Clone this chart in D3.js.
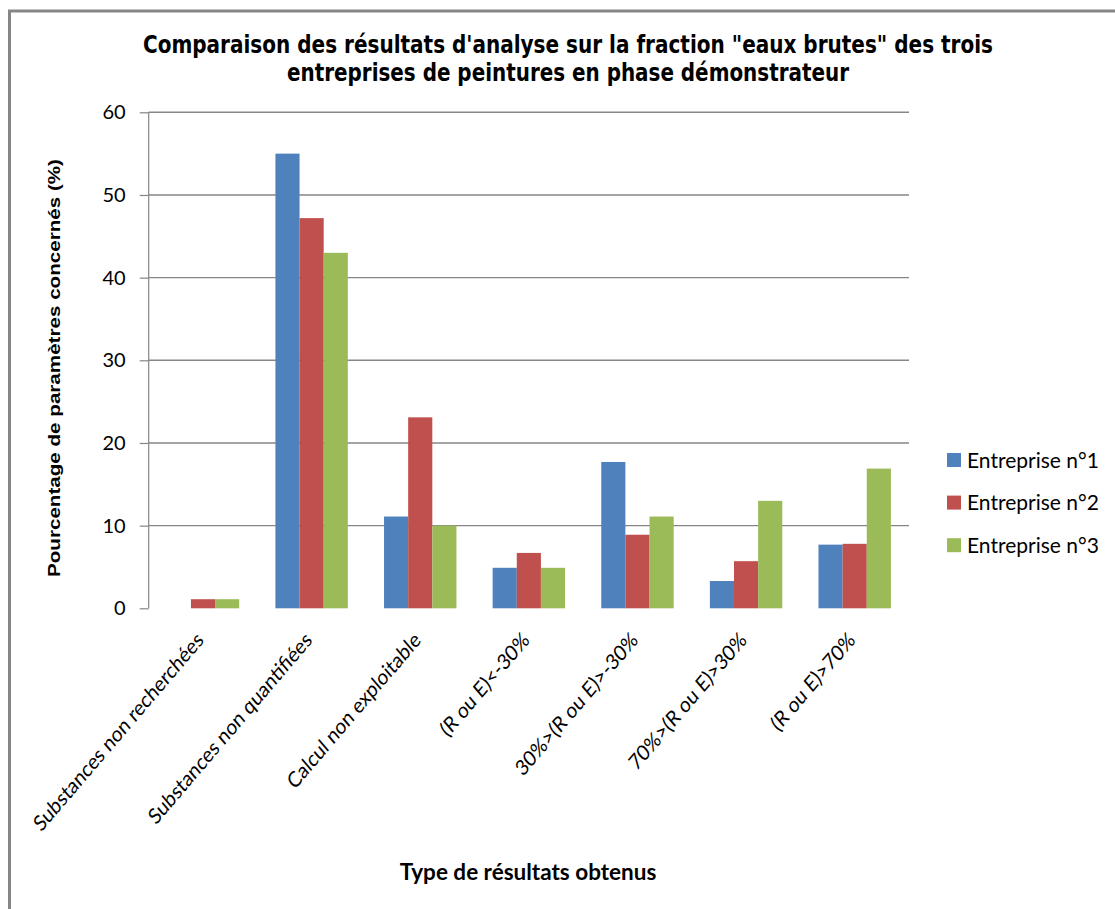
<!DOCTYPE html>
<html><head><meta charset="utf-8">
<script src="https://cdn.jsdelivr.net/npm/d3@7"></script>
<style>
html,body{margin:0;padding:0;background:#fff;}
svg{display:block;}
</style>
</head><body>
<svg id="chart" width="1115" height="909"></svg>
<script>
const categories = ["Substances non recherchées","Substances non quantifiées","Calcul non exploitable","(R ou E)<-30%","30%>(R ou E)>-30%","70%>(R ou E)>30%","(R ou E)>70%"];
const seriesNames = ["Entreprise n°1","Entreprise n°2","Entreprise n°3"];
const entreprise1 = [0, 55.0, 11.1, 4.9, 17.7, 3.3, 7.7];
const entreprise2 = [1.1, 47.2, 23.1, 6.7, 8.9, 5.7, 7.8];
const entreprise3 = [1.1, 43.0, 10.0, 4.9, 11.1, 13.0, 16.9];
const yTicks = [0, 10, 20, 30, 40, 50, 60];
const colors = ["#4F81BD", "#C0504D", "#9BBB59"];
const titleLines = ["Comparaison des résultats d'analyse sur la fraction \"eaux brutes\" des trois", "entreprises de peintures en phase démonstrateur"];
const yTitle = "Pourcentage de paramètres concernés (%)";
const xTitle = "Type de résultats obtenus";

const seriesValues = [entreprise1, entreprise2, entreprise3];
const svg = d3.select("#chart");

// frame border (only left & top visible)
svg.append("rect").attr("x", 9.5).attr("y", 11).attr("width", 1200).attr("height", 1000)
  .attr("fill", "none").attr("stroke", "#868686").attr("stroke-width", 3);

const plot = {left: 148.7, right: 909, top: 112.3, bottom: 608.3};

const x = d3.scaleBand().domain(categories).range([plot.left, plot.right])
  .paddingInner(1/3).paddingOuter(1/6);
const xs = d3.scaleBand().domain(seriesNames).range([0, x.bandwidth()]).padding(0);
const y = d3.scaleLinear().domain([0, 60]).range([plot.bottom, plot.top]);

// gridlines
svg.append("g").selectAll("line").data(yTicks.filter(d => d > 0)).join("line")
  .attr("x1", plot.left).attr("x2", plot.right)
  .attr("y1", d => y(d)).attr("y2", d => y(d))
  .attr("stroke", "#868686").attr("stroke-width", 1.4);

// y axis
const yAxis = d3.axisLeft(y).tickValues(yTicks).tickSize(9).tickPadding(14).tickFormat(d3.format("d"));
const gy = svg.append("g").attr("transform", `translate(${plot.left},0)`).call(yAxis);
gy.select(".domain").attr("stroke", "#868686").attr("stroke-width", 1.2).attr("d", `M-0,${plot.top}V${plot.bottom}`);
gy.selectAll(".tick line").attr("stroke", "#868686").attr("stroke-width", 1.2);
gy.selectAll(".tick text").attr("font-family", "Lato, 'Open Sans', sans-serif").attr("font-size", 20).attr("fill", "#000");

// bars
const groups = svg.append("g").selectAll("g").data(categories).join("g")
  .attr("transform", d => `translate(${x(d)},0)`);
groups.selectAll("rect").data((c, i) => seriesNames.map((s, j) => ({s, v: seriesValues[j][i], j})))
  .join("rect")
  .attr("x", d => xs(d.s)).attr("width", xs.bandwidth())
  .attr("y", d => y(d.v)).attr("height", d => y(0) - y(d.v))
  .attr("fill", d => colors[d.j]);

// category labels (source image is slightly stretched vertically)
svg.append("g").selectAll("text").data(categories).join("text")
  .attr("transform", d => `translate(${x(d) + x.bandwidth()/2 - 3},636) scale(1,1.17) rotate(-45)`)
  .attr("text-anchor", "end").attr("dy", "0.35em")
  .attr("font-family", "Lato, 'Open Sans', sans-serif").attr("font-size", 18.6).attr("fill", "#000")
  .text(d => d);

// title
svg.append("g").selectAll("text").data(titleLines).join("text")
  .attr("x", 568).attr("y", (d, i) => 53 + i * 28)
  .attr("text-anchor", "middle")
  .attr("font-family", "'Liberation Sans Narrow', 'DejaVu Sans Condensed', sans-serif")
  .attr("font-weight", "bold").attr("font-size", 25).attr("fill", "#000")
  .attr("textLength", (d, i) => i === 0 ? 850 : 562).attr("lengthAdjust", "spacingAndGlyphs")
  .text(d => d);

// y title
svg.append("text")
  .attr("transform", "translate(60,368) rotate(-90)")
  .attr("text-anchor", "middle")
  .attr("font-family", "'Liberation Sans', Arial, sans-serif")
  .attr("font-weight", "bold").attr("font-size", 17).attr("fill", "#000")
  .attr("textLength", 418).attr("lengthAdjust", "spacingAndGlyphs")
  .text(yTitle);

// x title
svg.append("text").attr("x", 528).attr("y", 880).attr("text-anchor", "middle")
  .attr("font-family", "Lato, 'Open Sans', sans-serif").attr("font-weight", "bold").attr("font-size", 22.5)
  .attr("fill", "#000").text(xTitle);

// legend
const legend = svg.append("g").selectAll("g").data(seriesNames).join("g")
  .attr("transform", (d, i) => `translate(947,${460 + i * 42.6})`);
legend.append("rect").attr("x", 0).attr("y", -7).attr("width", 14).attr("height", 14)
  .attr("fill", (d, i) => colors[i]);
legend.append("text").attr("x", 20).attr("y", 0).attr("dy", "0.36em")
  .attr("font-family", "Lato, 'Open Sans', sans-serif").attr("font-size", 21).attr("fill", "#000")
  .text(d => d);
</script>
</body></html>
